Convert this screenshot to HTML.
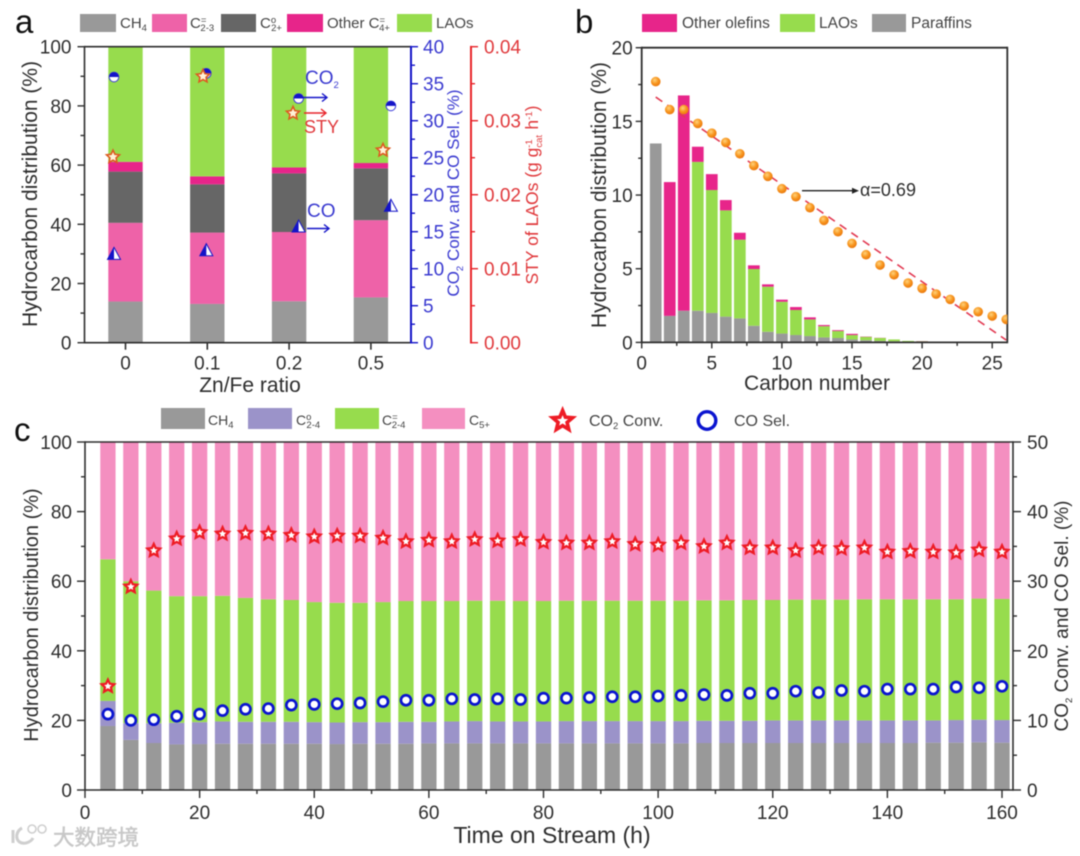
<!DOCTYPE html>
<html lang="en">
<head>
<meta charset="utf-8">
<title>Hydrocarbon distribution charts</title>
<style>
html,body{margin:0;padding:0;background:#fff;}
body{width:1080px;height:856px;overflow:hidden;}
svg{display:block;filter:blur(0.6px);}
text{font-family:"Liberation Sans","Noto Sans CJK SC",sans-serif;fill:#333;}
.tick{font-size:19px;}
.title{font-size:21px;}
.leg{font-size:15px;fill:#444;}
.legb{font-size:15.5px;fill:#444;}
.legc{font-size:14px;fill:#444;}
.legd{font-size:16px;fill:#444;}
.sub{font-size:9.5px;}
.letter{font-size:33px;fill:#111;}
</style>
</head>
<body>
<svg id="chart" xmlns="http://www.w3.org/2000/svg" width="1080" height="856" viewBox="0 0 1080 856">
  <defs>
    <clipPath id="clip-b"><rect x="641.7" y="47" width="365.6" height="296"/></clipPath>
    <radialGradient id="ball" cx="0.4" cy="0.35" r="0.7">
      <stop offset="0" stop-color="#ffd27a"/>
      <stop offset="0.55" stop-color="#f7941d"/>
      <stop offset="1" stop-color="#e8740c"/>
    </radialGradient>
  </defs>

  <g id="panel-a"></g>
  <g id="panel-b"></g>
  <g id="panel-c"></g>

  <text class="letter" x="15" y="33">a</text>
  <text class="letter" x="575" y="33">b</text>
  <text class="letter" x="14" y="441">c</text>

  <!-- Panel a legend -->
  <g>
    <rect x="80" y="14" width="36" height="18" fill="#999"/>
    <text class="leg" x="120" y="28">CH<tspan class="sub" dy="3">4</tspan></text>
    <rect x="152" y="14" width="35" height="18" fill="#ee62a8"/>
    <text class="leg" x="190" y="28">C<tspan class="sub" dy="-5">=</tspan><tspan class="sub" dx="-6" dy="8">2-3</tspan></text>
    <rect x="221" y="14" width="35" height="18" fill="#666"/>
    <text class="leg" x="260" y="28">C<tspan class="sub" dy="-5">o</tspan><tspan class="sub" dx="-5" dy="8">2+</tspan></text>
    <rect x="287" y="14" width="36" height="18" fill="#e7258a"/>
    <text class="leg" x="327" y="28">Other C<tspan class="sub" dy="-5">=</tspan><tspan class="sub" dx="-6" dy="8">4+</tspan></text>
    <rect x="397" y="14" width="35" height="18" fill="#97dc4d"/>
    <text class="leg" x="436" y="28">LAOs</text>
  </g>

  <!-- Panel b legend -->
  <g>
    <rect x="642" y="14" width="35" height="18" fill="#e7258a"/>
    <text class="legb" x="682" y="28">Other olefins</text>
    <rect x="780" y="14" width="35" height="18" fill="#97dc4d"/>
    <text class="legb" x="819" y="28">LAOs</text>
    <rect x="872" y="14" width="34" height="18" fill="#999"/>
    <text class="legb" x="911" y="28">Paraffins</text>
  </g>

  <!-- Panel c legend -->
  <g>
    <rect x="161" y="408" width="44" height="21" fill="#999"/>
    <text class="legc" x="208" y="425">CH<tspan class="sub" dy="3">4</tspan></text>
    <rect x="248" y="408" width="44" height="21" fill="#9b93c9"/>
    <text class="legc" x="296" y="425">C<tspan class="sub" dy="-5">o</tspan><tspan class="sub" dx="-5" dy="8">2-4</tspan></text>
    <rect x="335" y="408" width="44" height="21" fill="#97dc4d"/>
    <text class="legc" x="382" y="425">C<tspan class="sub" dy="-5">=</tspan><tspan class="sub" dx="-6" dy="8">2-4</tspan></text>
    <rect x="422" y="408" width="43" height="21" fill="#f48fc0"/>
    <text class="legc" x="469" y="425">C<tspan class="sub" dy="3">5+</tspan></text>
    <polygon points="562.6,410.5 565.4,417.2 572.6,417.7 567.1,422.4 568.8,429.4 562.6,425.6 556.4,429.4 558.1,422.4 552.6,417.7 559.8,417.2" fill="#fff" stroke="#ee1c25" stroke-width="3.6"/>
    <text class="legd" x="589" y="426">CO<tspan class="sub" dy="3">2</tspan><tspan dy="-3"> Conv.</tspan></text>
    <circle cx="707" cy="420.5" r="8.8" fill="#fff" stroke="#0a14d0" stroke-width="3.4"/>
    <text class="legd" x="734" y="426">CO Sel.</text>
  </g>

  <!-- Watermark -->
  <g>
    <path d="M13 830 L13 843 M22 828 C14 832 15 845 26 843 C30 842 32 840 33 838" fill="none" stroke="#cfcfcf" stroke-width="3"/>
    <circle cx="32" cy="829" r="4" fill="none" stroke="#cfcfcf" stroke-width="1.6"/>
    <circle cx="42" cy="829" r="4" fill="none" stroke="#cfcfcf" stroke-width="1.6"/>
    <text x="53" y="845" font-size="21.5" stroke="#c8c8c8" stroke-width="0.5" style="fill:#c8c8c8">大数跨境</text>
  </g>
</svg>

<script>
// ---------- Panel a data ----------
const aCategories = ['0', '0.1', '0.2', '0.5'];
const aCH4 = [13.9, 13.1, 14.0, 15.3];
const aC23 = [26.6, 24.1, 23.4, 26.1];
const aC2Plus = [17.3, 16.3, 19.8, 17.5];
const aOtherC4 = [3.3, 2.7, 2.0, 1.8];
const aLAOs = [38.9, 43.8, 40.8, 39.3];
const aCO2Conv = [35.9, 36.4, 33.0, 32.0];
const aCOSel = [12.0, 12.5, 15.7, 18.5];
const aSTY = [0.0251, 0.0360, 0.0310, 0.0260];
const aLeftTicks = [0, 20, 40, 60, 80, 100];
const aBlueTicks = [0, 5, 10, 15, 20, 25, 30, 35, 40];
const aRedTicks = ['0.00', '0.01', '0.02', '0.03', '0.04'];

// ---------- Panel b data ----------
const bCarbon = [1,2,3,4,5,6,7,8,9,10,11,12,13,14,15,16,17,18,19,20,21,22,23,24,25,26];
const bParaffins = [13.5,1.8,2.15,2.15,2.0,1.75,1.63,1.13,0.72,0.6,0.5,0.43,0.34,0.3,0.2,0.15,0.1,0.08,0.05,0.04,0.02,0.02,0.01,0.01,0.01,0];
const bLAOs = [0,0,0,10.1,8.34,7.21,5.34,3.85,3.06,2.16,1.7,1.13,0.76,0.47,0.3,0.23,0.2,0.12,0.05,0.04,0.03,0.01,0.01,0.01,0,0];
const bOther = [0,9.08,14.61,1.03,1.08,0.7,0.47,0.25,0.16,0.14,0.2,0.14,0.08,0.06,0.08,0.02,0.01,0,0,0.01,0.01,0.01,0.01,0,0,0];
const bASF = [17.7,15.8,15.8,14.86,14.2,13.57,12.8,12.0,11.27,10.43,9.89,9.14,8.28,7.51,6.72,5.95,5.25,4.59,4.03,3.67,3.28,2.92,2.47,2.08,1.79,1.56];
const bFitCarbon = [1, 26];
const bFitValue = [16.65, 0.16];
const bXTicks = [0, 5, 10, 15, 20, 25];
const bYTicks = [0, 5, 10, 15, 20];

// ---------- Panel c data ----------
const cTime = [4,8,12,16,20,24,28,32,36,40,44,48,52,56,60,64,68,72,76,80,84,88,92,96,100,104,108,112,116,120,124,128,132,136,140,144,148,152,156,160];
const cCH4 = [18.4,14.4,13.5,13.1,13.2,13.3,13.3,13.3,13.3,13.3,13.2,13.3,13.3,13.3,13.4,13.4,13.4,13.4,13.4,13.4,13.4,13.4,13.4,13.4,13.4,13.4,13.5,13.5,13.5,13.5,13.5,13.5,13.5,13.5,13.5,13.5,13.6,13.6,13.7,13.6];
const cC24P = [7.2,4.8,5.7,6.2,6.3,6.4,6.3,6.3,6.3,6.2,6.2,6.2,6.2,6.3,6.2,6.3,6.4,6.3,6.3,6.3,6.4,6.4,6.4,6.4,6.4,6.4,6.4,6.4,6.4,6.5,6.5,6.5,6.5,6.5,6.5,6.5,6.4,6.5,6.5,6.5];
const cC24O = [40.7,40.8,38.1,36.4,36.2,36.1,35.6,35.2,35.0,34.5,34.4,34.3,34.5,34.7,34.7,34.6,34.6,34.7,34.6,34.6,34.6,34.6,34.6,34.6,34.6,34.6,34.6,34.6,34.7,34.6,34.7,34.7,34.7,34.8,34.8,34.8,34.8,34.7,34.8,34.8];
const cC5 = [33.7,40.0,42.7,44.3,44.3,44.2,44.8,45.2,45.4,46.0,46.2,46.2,46.0,45.7,45.7,45.7,45.6,45.6,45.7,45.7,45.6,45.6,45.6,45.6,45.6,45.6,45.5,45.5,45.4,45.4,45.3,45.3,45.3,45.2,45.2,45.2,45.2,45.2,45.0,45.1];
const cConv = [14.9,29.2,34.4,36.1,37.0,36.8,36.9,36.8,36.6,36.4,36.5,36.5,36.2,35.7,35.9,35.7,36.0,35.8,36.0,35.6,35.5,35.5,35.7,35.3,35.2,35.5,35.0,35.5,34.8,34.8,34.4,34.8,34.7,34.8,34.2,34.3,34.2,34.1,34.5,34.2];
const cSel = [10.9,10.0,10.1,10.6,10.9,11.4,11.6,11.7,12.2,12.3,12.4,12.5,12.7,12.9,12.9,13.1,13.0,13.1,13.0,13.2,13.2,13.3,13.4,13.4,13.5,13.6,13.7,13.6,13.9,13.9,14.2,14.0,14.3,14.2,14.5,14.5,14.5,14.8,14.7,14.9];
const cXTicks = [0, 20, 40, 60, 80, 100, 120, 140, 160];
const cLeftTicks = [0, 20, 40, 60, 80, 100];
const cRightTicks = [0, 10, 20, 30, 40, 50];

// ---------- Helpers ----------
const NS = 'http://www.w3.org/2000/svg';
function mk(parent, tag, attrs, txt) {
  const el = document.createElementNS(NS, tag);
  for (const k in attrs) el.setAttribute(k, attrs[k]);
  if (txt !== undefined) el.textContent = txt;
  parent.appendChild(el);
  return el;
}
function line(parent, x1, y1, x2, y2, color, w, name) {
  const el = mk(parent, 'line', {x1, y1, x2, y2, stroke: color, 'stroke-width': w});
  
  
  return el;
}
function label(parent, x, y, s, anchor, color, cls, name, rot) {
  const el = mk(parent, 'text', {x, y, 'text-anchor': anchor, class: cls}, s);
  el.style.fill = color;
  if (rot) el.setAttribute('transform', 'rotate(-90 ' + x + ' ' + y + ')');
  
  
  return el;
}
function bar(parent, x, y, w, h, color, name) {
  const el = mk(parent, 'rect', {x, y, width: w, height: h, fill: color});
  
  
  return el;
}
function starPts(cx, cy, R) {
  const pts = [];
  for (let i = 0; i < 10; i++) {
    const r = i % 2 ? R * 0.48 : R;
    const t = -Math.PI / 2 + i * Math.PI / 5;
    pts.push((cx + r * Math.cos(t)).toFixed(2) + ',' + (cy + r * Math.sin(t)).toFixed(2));
  }
  return pts.join(' ');
}
const INK = '#2e2e2e', BLUE = '#1414c8', BLUET = '#3a3ad0', RED = '#e8242a', REDT = '#e0393c';

// ---------- Panel a ----------
(function () {
  const g = document.getElementById('panel-a');
  const L = 84.5, R = 411, T = 46.7, B = 342.7;
  const yL = v => B - v * (B - T) / 100;
  const yBlue = v => B - v * (B - T) / 40;
  const yRed = v => B - v * (B - T) / 0.04;
  const xCat = i => 125.5 + i * 81.8;
  const xBall = i => 114 + i * 92.3;
  const xStar = i => 113 + i * 90;
  const BW = 34.4;
  const stack = [[aCH4, '#999999', 'ch4'], [aC23, '#ee62a8', 'c2-3'], [aC2Plus, '#666666', 'c2-plus'], [aOtherC4, '#e7258a', 'other-c4'], [aLAOs, '#97dc4d', 'laos']];
  aCategories.forEach((c, i) => {
    let acc = 0;
    stack.forEach(s => {
      const v = s[0][i];
      bar(g, xCat(i) - BW / 2, yL(acc + v), BW, yL(acc) - yL(acc + v), s[1], 'bar-' + s[2] + '-' + c);
      acc += v;
    });
    line(g, xCat(i), B, xCat(i), B + 7, INK, 1.6, 'x-tick-' + c);
    label(g, xCat(i), B + 27, c, 'middle', INK, 'tick', 'x-tick-label-' + c);
  });
  line(g, L, T, R, T, INK, 1.6, 'top-axis');
  line(g, L, B, R, B, INK, 1.6, 'x-axis');
  line(g, L, T - 0.8, L, B + 0.8, INK, 1.6, 'left-axis');
  for (let v = 0; v <= 100; v += 10) {
    line(g, L, yL(v), L - (v % 20 === 0 ? 7 : 4), yL(v), INK, 1.4, 'left-tick-' + v);
  }
  aLeftTicks.forEach(v => label(g, L - 13, yL(v) + 7, String(v), 'end', INK, 'tick', 'left-tick-label-' + v));
  label(g, 37, 194, 'Hydrocarbon distribution (%)', 'middle', INK, 'title', 'left-axis-title', true);
  label(g, 250, 392, 'Zn/Fe ratio', 'middle', INK, 'title', 'x-axis-title');

  line(g, R, T - 0.8, R, B + 0.8, BLUE, 2, 'blue-axis');
  for (let v = 0; v <= 40; v += 2.5) {
    line(g, R, yBlue(v), R + (v % 5 === 0 ? 7 : 4), yBlue(v), BLUE, 1.4, 'blue-tick-' + v);
  }
  aBlueTicks.forEach(v => label(g, 423, yBlue(v) + 7, String(v), 'start', BLUET, 'tick', 'blue-tick-label-' + v));
  const bt = label(g, 459, 193, '', 'middle', BLUET, 'title', 'blue-axis-title', true);
  bt.style.fontSize = '17px';
  bt.innerHTML = 'CO<tspan class="sub" style="fill:' + BLUET + '" dy="4">2</tspan><tspan dy="-4"> Conv. and CO Sel. (%)</tspan>';

  line(g, 471, T - 0.8, 471, B + 0.8, RED, 2, 'red-axis');
  for (let v = 0; v <= 8; v++) {
    const val = v * 0.005;
    line(g, 471, yRed(val), 471 + (v % 2 === 0 ? 7 : 4), yRed(val), RED, 1.4, 'red-tick-' + v);
  }
  aRedTicks.forEach(v => label(g, 484, yRed(+v) + 7, v, 'start', REDT, 'tick', 'red-tick-label-' + v));
  const rt = label(g, 538, 195, '', 'middle', REDT, 'title', 'red-axis-title', true);
  rt.style.fontSize = '17.5px';
  rt.innerHTML = 'STY of LAOs (g g<tspan class="sub" style="fill:' + REDT + '" dy="4">cat</tspan><tspan class="sub" style="fill:' + REDT + '" dx="-13" dy="-10">-1</tspan><tspan dx="5" dy="6"> h</tspan><tspan class="sub" style="fill:' + REDT + '" dy="-6">-1</tspan><tspan dy="6">)</tspan>';

  aCO2Conv.forEach((v, i) => {
    const cx = xBall(i), cy = yBlue(v);
    const c = mk(g, 'circle', {cx, cy, r: 4.8, fill: '#fff', stroke: '#3a3ad8', 'stroke-width': 1});
    
    
    const h = mk(g, 'path', {d: 'M' + (cx - 4.8) + ' ' + cy + ' A4.8 4.8 0 0 1 ' + (cx + 4.8) + ' ' + cy + ' Z', fill: '#1414c8'});
    
    
  });
  aCOSel.forEach((v, i) => {
    const cx = xBall(i), cy = yBlue(v);
    const t = mk(g, 'polygon', {points: (cx - 6.5) + ',' + (cy + 5.5) + ' ' + cx + ',' + (cy - 6.5) + ' ' + (cx + 6.5) + ',' + (cy + 5.5), fill: '#fff', stroke: '#1414c8', 'stroke-width': 1});
    
    
    const h = mk(g, 'polygon', {points: (cx - 6.5) + ',' + (cy + 5.5) + ' ' + cx + ',' + (cy - 6.5) + ' ' + cx + ',' + (cy + 5.5), fill: '#1414c8'});
    
    
  });
  aSTY.forEach((v, i) => {
    const s = mk(g, 'polygon', {points: starPts(xStar(i), yRed(v), 6.8), fill: '#fff2d8', stroke: '#dd5a20', 'stroke-width': 1.6});
    
    
  });

  // Annotations
  function arrow(x1, x2, y, color, name) {
    line(g, x1, y, x2, y, color, 1.4, name);
    const p = mk(g, 'path', {d: 'M' + (x2 - 5) + ' ' + (y - 4) + ' L' + x2 + ' ' + y + ' L' + (x2 - 5) + ' ' + (y + 4), fill: 'none', stroke: color, 'stroke-width': 1.4});
    
    
  }
  arrow(303, 327, 97.5, BLUE, 'co2-arrow');
  arrow(304, 326, 113, RED, 'sty-arrow');
  arrow(307, 329, 228.5, BLUE, 'co-arrow');
  const co2 = label(g, 305, 84, '', 'start', BLUET, 'title', 'co2-annotation');
  co2.style.fontSize = '19px';
  co2.innerHTML = 'CO<tspan class="sub" style="fill:' + BLUET + '" dy="4">2</tspan>';
  label(g, 304, 133, 'STY', 'start', REDT, 'title', 'sty-annotation').style.fontSize = '18px';
  label(g, 307, 217, 'CO', 'start', BLUET, 'title', 'co-annotation').style.fontSize = '19px';
})();

// ---------- Panel b ----------
(function () {
  const g = document.getElementById('panel-b');
  const x0 = 641.7, ux = 14.02, T = 47.7, B = 342.4, Rt = 1007.3;
  const x = v => x0 + v * ux;
  const y = v => B - v * (B - T) / 20;
  const BW = 11.7;
  bCarbon.forEach((c, i) => {
    const a = bParaffins[i], b = a + bLAOs[i], t = b + bOther[i];
    bar(g, x(c) - BW / 2, y(a), BW, y(0) - y(a), '#999999', 'bar-paraffins-c' + c);
    if (bLAOs[i] > 0) bar(g, x(c) - BW / 2, y(b), BW, y(a) - y(b), '#97dc4d', 'bar-laos-c' + c);
    if (bOther[i] > 0) bar(g, x(c) - BW / 2, y(t), BW, y(b) - y(t), '#e7258a', 'bar-other-c' + c);
  });
  line(g, x0, T, Rt, T, INK, 1.8, 'top-axis-b');
  line(g, x0, B, Rt, B, INK, 1.8, 'x-axis-b');
  line(g, x0, T - 0.9, x0, B + 0.9, INK, 1.8, 'left-axis-b');
  line(g, Rt, T - 0.9, Rt, B + 0.9, INK, 1.8, 'right-axis-b');
  for (let v = 0; v <= 20; v += 2.5) {
    line(g, x0, y(v), x0 - (v % 5 === 0 ? 6 : 3.5), y(v), INK, 1.4, 'y-tick-b-' + v);
  }
  for (let v = 0; v <= 25; v += 2.5) {
    line(g, x(v), B, x(v), B + (v % 5 === 0 ? 6 : 3.5), INK, 1.4, 'x-tick-b-' + v);
  }
  bYTicks.forEach(v => label(g, x0 - 9, y(v) + 7, String(v), 'end', INK, 'tick', 'y-tick-label-b-' + v));
  bXTicks.forEach(v => label(g, x(v), B + 27, String(v), 'middle', INK, 'tick', 'x-tick-label-b-' + v));
  label(g, 606, 195, 'Hydrocarbon distribution (%)', 'middle', INK, 'title', 'y-axis-title-b', true);
  label(g, 817, 390, 'Carbon number', 'middle', INK, 'title', 'x-axis-title-b');

  const clip = mk(g, 'g', {'clip-path': 'url(#clip-b)'});
  
  
  const fit = line(clip, x(bFitCarbon[0]), y(bFitValue[0]), x(bFitCarbon[1]), y(bFitValue[1]), '#e23a52', 1.6, 'asf-fit-line');
  fit.setAttribute('stroke-dasharray', '8 6');
  bASF.forEach((v, i) => {
    const c = mk(clip, 'circle', {cx: x(bCarbon[i]), cy: y(v), r: 4.8, fill: 'url(#ball)'});
    
    
  });

  line(g, 802, 190.7, 857, 190.7, '#222', 1.3, 'alpha-arrow');
  const head = mk(g, 'polygon', {points: '852,187.7 859,190.7 852,193.7', fill: '#222'});
  
  
  label(g, 860, 196, 'α=0.69', 'start', INK, 'tick', 'alpha-annotation').style.fontSize = '18px';
})();

// ---------- Panel c ----------
(function () {
  const g = document.getElementById('panel-c');
  const x0 = 85, x160 = 1002, T = 442, B = 790, Rt = 1013;
  const x = v => x0 + v * (x160 - x0) / 160;
  const yL = v => B - v * (B - T) / 100;
  const yR = v => B - v * (B - T) / 50;
  const BW = 15.3;
  const stack = [[cCH4, '#999999', 'ch4'], [cC24P, '#9b93c9', 'c2-4-paraffin'], [cC24O, '#97dc4d', 'c2-4-olefin'], [cC5, '#f48fc0', 'c5-plus']];
  cTime.forEach((t, i) => {
    let acc = 0;
    stack.forEach(s => {
      const v = s[0][i];
      bar(g, x(t) - BW / 2, yL(acc + v), BW, yL(acc) - yL(acc + v), s[1], 'bar-' + s[2] + '-' + t + 'h');
      acc += v;
    });
  });
  line(g, x0, T, Rt, T, INK, 1.6, 'top-axis-c');
  line(g, x0, B, Rt, B, INK, 1.6, 'x-axis-c');
  line(g, x0, T - 0.8, x0, B + 0.8, INK, 1.6, 'left-axis-c');
  line(g, Rt, T - 0.8, Rt, B + 0.8, INK, 1.6, 'right-axis-c');
  for (let v = 0; v <= 100; v += 10) {
    line(g, x0, yL(v), x0 - (v % 20 === 0 ? 8 : 4), yL(v), INK, 1.4, 'left-tick-c-' + v);
    line(g, Rt, yL(v), Rt + (v % 20 === 0 ? 8 : 4), yL(v), INK, 1.4, 'right-tick-c-' + v);
  }
  for (let v = 0; v <= 160; v += 10) {
    line(g, x(v), B, x(v), B + (v % 20 === 0 ? 8 : 4), INK, 1.4, 'x-tick-c-' + v);
  }
  cLeftTicks.forEach(v => label(g, x0 - 13, yL(v) + 7, String(v), 'end', INK, 'tick', 'left-tick-label-c-' + v));
  cRightTicks.forEach(v => label(g, Rt + 14, yR(v) + 7, String(v), 'start', INK, 'tick', 'right-tick-label-c-' + v));
  cXTicks.forEach(v => label(g, x(v), B + 29, String(v), 'middle', INK, 'tick', 'x-tick-label-c-' + v));
  label(g, 38, 615, 'Hydrocarbon distribution (%)', 'middle', INK, 'title', 'left-axis-title-c', true).style.fontSize = '20px';
  const rt = label(g, 1068, 616, '', 'middle', INK, 'title', 'right-axis-title-c', true);
  rt.style.fontSize = '19px';
  rt.innerHTML = 'CO<tspan class="sub" dy="4">2</tspan><tspan dy="-4"> Conv. and CO Sel. (%)</tspan>';
  label(g, 552, 843, 'Time on Stream (h)', 'middle', INK, 'title', 'x-axis-title-c').style.fontSize = '23px';

  cConv.forEach((v, i) => {
    const s = mk(g, 'polygon', {points: starPts(x(cTime[i]), yR(v), 6.6), fill: '#fff', stroke: '#ee1c25', 'stroke-width': 2.3});
    
    
  });
  cSel.forEach((v, i) => {
    const c = mk(g, 'circle', {cx: x(cTime[i]), cy: yR(v), r: 5, fill: '#fff', stroke: '#0a14d0', 'stroke-width': 2.7});
    
    
  });
})();
</script>
</body>
</html>
